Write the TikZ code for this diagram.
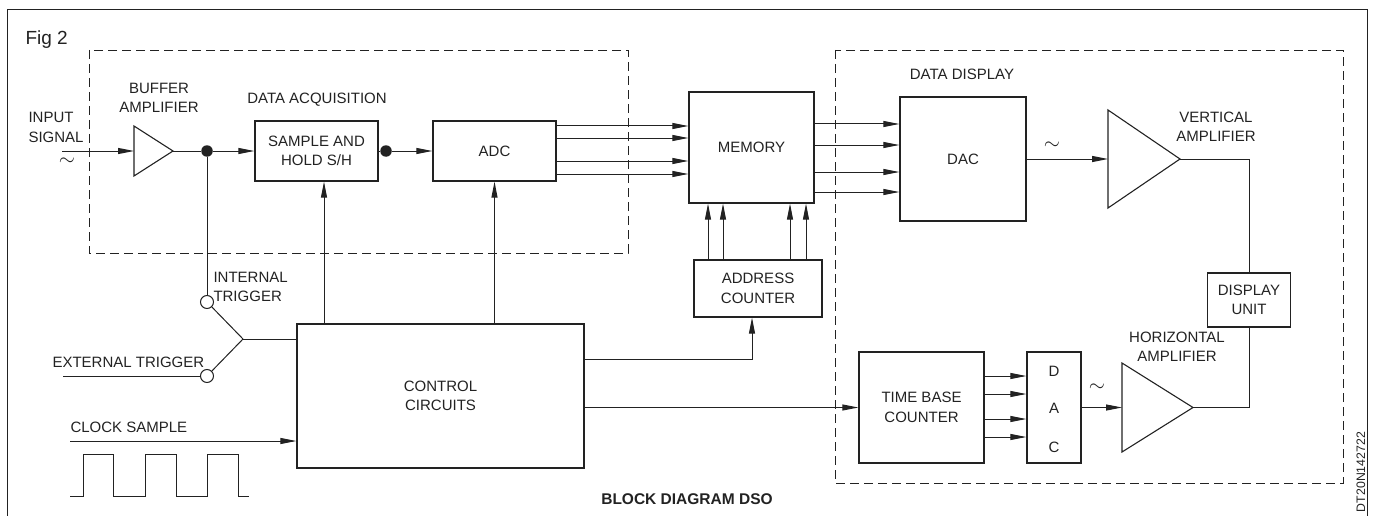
\documentclass[tikz,border=0pt]{standalone}
\usepackage{fontspec}
\setmainfont{Liberation Sans}
\usetikzlibrary{arrows.meta,calc}
\definecolor{ink}{HTML}{222222}
\begin{document}
\begin{tikzpicture}[x=1pt,y=-1pt,line width=1pt,draw=ink,
  lbl/.style={font=\fontsize{15}{19.5}\selectfont,inner sep=0pt,align=center,text=ink},
  tilde/.style={font=\fontsize{21}{21}\selectfont,inner sep=0pt,text=ink},
  blk/.style={draw=ink,line width=1.2pt,inner sep=0pt},
  arr/.style={-{Triangle[length=16pt,width=6pt]}},
  grp/.style={draw=ink,dash pattern=on 9pt off 5pt,line width=0.9pt},
  dot/.style={circle,fill=ink,inner sep=0pt,minimum size=11.5pt},
  contact/.style={circle,draw=ink,fill=white,inner sep=0pt,minimum size=13pt,line width=1pt},
  ampl/.style={draw=ink,line width=1.1pt,line join=miter}]
\useasboundingbox (0,0) rectangle (1375,516);

% outer frame
\coordinate (fbl) at (7,516); \coordinate (ftl) at (7,10);
\coordinate (ftr) at (1367,10); \coordinate (fbr) at (1367,516);
\draw[line width=1pt] (fbl) -- (ftl) -- (ftr) -- (fbr);

% group frames
\draw[grp] (89,50) rectangle (628,253);
\draw[grp] (835,50) rectangle (1343,483);

% blocks
\node[blk,lbl,minimum width=123pt,minimum height=60pt] (sh) at (316.5,151) {SAMPLE AND\\HOLD S/H};
\node[blk,lbl,minimum width=123pt,minimum height=60pt] (adc) at (494.5,151) {ADC};
\node[blk,lbl,minimum width=125pt,minimum height=111pt] (mem) at (751.5,147.5) {MEMORY};
\node[blk,lbl,minimum width=128pt,minimum height=57pt] (addr) at (758,288.5) {ADDRESS\\COUNTER};
\node[blk,lbl,minimum width=287pt,minimum height=144pt] (ctrl) at (440.5,396) {CONTROL\\CIRCUITS};
\node[blk,lbl,minimum width=125pt,minimum height=111pt] (tbc) at (921.5,407.5) {TIME BASE\\COUNTER};
\node[blk,minimum width=54pt,minimum height=111pt] (sdac) at (1054,407.5) {};
\node[lbl,anchor=base] (sdD) at (1054,376) {D};
\node[lbl,anchor=base] (sdA) at (1054,413) {A};
\node[lbl,anchor=base] (sdC) at (1054,452) {C};
\node[blk,lbl,minimum width=126pt,minimum height=124pt] (dac) at (963,159) {DAC};
\node[blk,lbl,minimum width=83pt,minimum height=54pt] (disp) at (1249,300) {DISPLAY\\UNIT};

% amplifiers
\coordinate (bufin) at (134,151); \coordinate (bufout) at (173,151);
\draw[ampl] (134,126) -- (134,176) -- (bufout) -- cycle;
\coordinate (vin) at (1108,159); \coordinate (vout) at (1180,159);
\draw[ampl] (1108,110) -- (1108,208) -- (vout) -- cycle;
\coordinate (hin) at (1122,407.5); \coordinate (hout) at (1193,407.5);
\draw[ampl] (1122,363) -- (1122,452) -- (hout) -- cycle;

% junctions and contacts
\node[dot] (d1) at (207,151) {};
\node[dot] (d2) at (386,151) {};
\node[contact] (ci) at (207,302) {};
\node[contact] (ce) at (207,376) {};
\coordinate (sw) at (243,339);
\coordinate (in) at (62,151);
\coordinate (ext) at (63,376);
\coordinate (clk) at (70,441);

% signal path
\draw[arr] (in) -- (bufin);
\draw (bufout) -- (d1);
\draw[arr] (d1) -- (sh.west);
\draw (sh.east) -- (d2);
\draw[arr] (d2) -- (adc.west);
\foreach \y in {126,138,161,174}{\draw[arr] (adc.east |- 0,\y) -- (mem.west |- 0,\y);}
\foreach \y in {124,145,172,192}{\draw[arr] (mem.east |- 0,\y) -- (dac.west |- 0,\y);}
\draw[arr] (dac.east) -- (vin);
\draw (vout) -| (disp.north);
\draw (hout) -| (disp.south);

% trigger
\draw (d1) -- (ci);
\draw (ci) -- (sw);
\draw (ce) -- (sw);
\draw (ext) -- (ce);
\draw (sw) -- (ctrl.west |- sw);

% control
\draw[arr] (ctrl.north -| 324,0) -- (sh.south -| 324,0);
\draw[arr] (ctrl.north -| adc.south) -- (adc.south);
\draw[arr] (ctrl.east |- 0,359) -| (addr.south -| 752,0);
\foreach \x in {708,723,790,806}{\draw[arr] (addr.north -| \x,0) -- (mem.south -| \x,0);}
\draw[arr] (ctrl.east |- tbc.west) -- (tbc.west);
\foreach \y in {376,394,419,437}{\draw[arr] (tbc.east |- 0,\y) -- (sdac.west |- 0,\y);}
\draw[arr] (sdac.east) -- (hin);
\draw[arr] (clk) -- (ctrl.west |- clk);

% clock waveform
\draw (70,496) -- (83,496) -- (83,454) -- (113,454) -- (113,496) -- (145,496) -- (145,454)
  -- (176,454) -- (176,496) -- (207,496) -- (207,454) -- (238,454) -- (238,496) -- (249,496);

% labels
\node[lbl,font=\fontsize{19}{22}\selectfont,anchor=base west] (fig) at (25,45) {Fig 2};
\node[lbl] (lbuf) at (159,98) {BUFFER\\AMPLIFIER};
\node[lbl,anchor=base] (lacq) at (317,104) {DATA ACQUISITION};
\node[lbl,anchor=west,align=left] (lin) at (28,127.5) {INPUT\\SIGNAL};
\node[tilde] (tin) at (67,162) {$\sim$};
\node[lbl,anchor=west,align=left] (lint) at (213,287) {INTERNAL\\TRIGGER};
\node[lbl,anchor=base west] (lext) at (52,367) {EXTERNAL TRIGGER};
\node[lbl,anchor=base west] (lclk) at (70,432) {CLOCK SAMPLE};
\node[lbl,anchor=base] (ldisp) at (962,80) {DATA DISPLAY};
\node[tilde] (tdac) at (1052,146) {$\sim$};
\node[lbl] (lvert) at (1216,127) {VERTICAL\\AMPLIFIER};
\node[tilde] (thor) at (1097,388) {$\sim$};
\node[lbl] (lhor) at (1177,347) {HORIZONTAL\\AMPLIFIER};
\node[lbl,font=\fontsize{15.5}{19}\selectfont\bfseries,anchor=base] (ltitle) at (687,504) {BLOCK DIAGRAM DSO};
\node[lbl,font=\fontsize{12.3}{14}\selectfont,rotate=90,anchor=base] (lcode) at (1365,472) {DT20N142722};
\end{tikzpicture}
\end{document}
